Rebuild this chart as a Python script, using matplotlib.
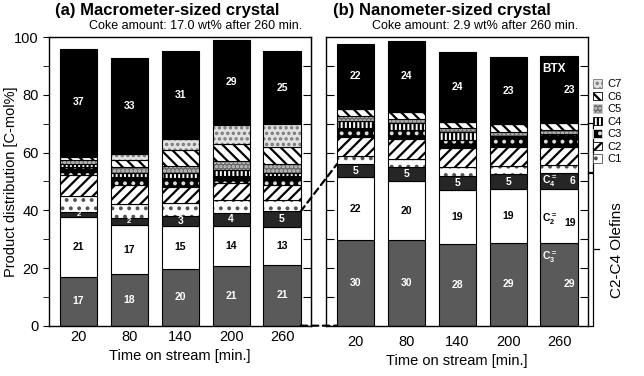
"""
Product distribution over time on stream for macro- and nano-sized crystals.
"""

import matplotlib
matplotlib.use("Agg")
import matplotlib.pyplot as plt
from matplotlib.patches import Patch, ConnectionPatch
import matplotlib.transforms as mtransforms
import numpy as np

plt.rcParams['font.family'] = ['Liberation Sans', 'DejaVu Sans']
plt.rcParams['mathtext.default'] = 'regular'
plt.rcParams['hatch.linewidth'] = 1.6

# data (C-mol%)
times = [20, 80, 140, 200, 260]

# (a) macrometer-sized crystal
a_ole_c3 = [17.0, 17.8, 19.6, 20.7, 21.0]
a_ole_c2 = [20.6, 17.1, 15.1, 14.0, 13.3]
a_ole_c4 = [1.8, 2.3, 3.4, 4.4, 5.3]
a_c1 = [5.4, 4.9, 4.3, 4.4, 4.0]
a_c2 = [7.6, 6.7, 5.6, 6.0, 5.2]
a_c3 = [2.6, 2.8, 3.2, 2.5, 3.1]
a_c4 = [1.0, 1.3, 1.8, 1.8, 1.2]
a_c5 = [1.4, 2.2, 2.3, 3.4, 3.0]
a_c6 = [1.0, 2.3, 5.5, 5.8, 5.7]
a_c7 = [0.5, 2.1, 3.8, 6.6, 8.0]
a_btx = [37.0, 33.4, 30.7, 29.4, 25.4]

# (b) nanometer-sized crystal
b_ole_c3 = [29.7, 29.6, 28.2, 28.6, 28.6]
b_ole_c2 = [21.7, 20.4, 18.8, 18.7, 18.7]
b_ole_c4 = [4.6, 5.0, 4.9, 5.2, 5.7]
b_c1 = [2.7, 2.8, 3.1, 2.8, 2.6]
b_c2 = [6.7, 7.0, 6.5, 6.7, 6.4]
b_c3 = [3.1, 3.0, 2.9, 3.7, 4.3]
b_c4 = [2.3, 2.3, 2.6, 0.0, 0.0]
b_c5 = [1.9, 1.7, 1.4, 1.5, 1.4]
b_c6 = [2.5, 2.4, 2.1, 2.6, 2.4]
b_c7 = [0.0, 0.0, 0.0, 0.0, 0.0]
b_btx = [22.4, 24.4, 24.4, 23.4, 23.4]

paraffin_names = ["C1", "C2", "C3", "C4", "C5", "C6", "C7"]

# styles: (face, hatch, hatch colour)
ole_c3_style = ("#5a5a5a", None, "#5a5a5a")
ole_c2_style = ("white", None, "white")
ole_c4_style = ("#262626", None, "#262626")
par_styles = [
    ("white", "..", "#555555"),     # C1
    ("white", "///", "black"),      # C2
    ("black", "..", "#dddddd"),     # C3
    ("white", "||||", "black"),     # C4
    ("#6a6a6a", "....", "#cccccc"), # C5
    ("white", "\\\\\\", "black"),   # C6
    ("#e2e2e2", "...", "#777777"),  # C7
]
btx_style = ("black", None, "black")

W = 0.73


def seg(ax, x, h, bottom, style):
    face, hatch, hcol = style
    ax.bar(x, h, W, bottom, color=face, edgecolor=hcol, hatch=hatch, linewidth=0)
    ax.bar(x, h, W, bottom, fill=False, edgecolor="black", linewidth=0.8)


def plot_panel(ax, ole3, ole2, ole4, pars, btx):
    x = np.arange(len(times))
    bottom = np.zeros(len(times))
    for vals, st in [(ole3, ole_c3_style), (ole2, ole_c2_style), (ole4, ole_c4_style)]:
        seg(ax, x, vals, bottom, st)
        bottom = bottom + np.array(vals)
    ole_top = bottom.copy()
    for vals, st in zip(pars, par_styles):
        seg(ax, x, vals, bottom, st)
        bottom = bottom + np.array(vals)
    par_top = bottom.copy()
    seg(ax, x, btx, bottom, btx_style)
    ax.set_xlim(-0.58, len(times) - 1 + 0.57)
    ax.set_ylim(0, 100)
    ax.set_xticks(x)
    ax.set_xticklabels([str(t) for t in times], fontsize=10.5)
    return x, ole_top, par_top


fig = plt.figure(figsize=(6.44, 3.76), dpi=100)
axL = fig.add_axes([49 / 644, 1 - 325.7 / 376, 262 / 644, 288.5 / 376])
axR = fig.add_axes([326 / 644, 1 - 325.7 / 376, 262 / 644, 288.5 / 376])

xa, a_ole_top, a_par_top = plot_panel(axL, a_ole_c3, a_ole_c2, a_ole_c4,
                                      [a_c1, a_c2, a_c3, a_c4, a_c5, a_c6, a_c7], a_btx)
xb, b_ole_top, b_par_top = plot_panel(axR, b_ole_c3, b_ole_c2, b_ole_c4,
                                      [b_c1, b_c2, b_c3, b_c4, b_c5, b_c6, b_c7], b_btx)

# value labels
lab = dict(ha="center", va="center", fontweight="bold", fontsize=7.5)
for i in range(len(times)):
    # panel (a)
    axL.text(i, a_ole_c3[i] / 2, f"{a_ole_c3[i]:.0f}", color="white", **lab)
    axL.text(i, a_ole_c3[i] + a_ole_c2[i] / 2, f"{a_ole_c2[i]:.0f}", color="black", **lab)
    fs = 7.5 if a_ole_c4[i] > 3 else 5.5
    axL.text(i, a_ole_top[i] - a_ole_c4[i] / 2, f"{a_ole_c4[i]:.0f}", color="white",
             ha="center", va="center", fontweight="bold", fontsize=fs)
    axL.text(i, a_par_top[i] + a_btx[i] / 2, f"{a_btx[i]:.0f}", color="white", **lab)
    if i == len(times) - 1:
        continue
    # panel (b)
    axR.text(i, b_ole_c3[i] / 2, f"{b_ole_c3[i]:.0f}", color="white", **lab)
    axR.text(i, b_ole_c3[i] + b_ole_c2[i] / 2, f"{b_ole_c2[i]:.0f}", color="black", **lab)
    axR.text(i, b_ole_top[i] - b_ole_c4[i] / 2, f"{b_ole_c4[i]:.0f}", color="white", **lab)
    axR.text(i, b_par_top[i] + b_btx[i] / 2, f"{b_btx[i]:.0f}", color="white", **lab)

# last bar of panel (b) carries the species names
k = len(times) - 1
xl, xr = k - W / 2 + 0.04, k + W / 2 - 0.04
bl = dict(fontweight="bold", fontsize=7.5, va="center")
axR.text(xl, b_ole_c3[k] * 0.83, r"C$_3^=$", color="white", ha="left", **bl)
axR.text(xr, b_ole_c3[k] * 0.5, f"{b_ole_c3[k]:.0f}", color="white", ha="right", **bl)
axR.text(xl, b_ole_c3[k] + b_ole_c2[k] * 0.45, r"C$_2^=$", color="black", ha="left", **bl)
axR.text(xr, b_ole_c3[k] + b_ole_c2[k] * 0.37, f"{b_ole_c2[k]:.0f}", color="black", ha="right", **bl)
axR.text(xl, b_ole_top[k] - b_ole_c4[k] / 2, r"C$_4^=$", color="white", ha="left", **bl)
axR.text(xr, b_ole_top[k] - b_ole_c4[k] / 2, f"{b_ole_c4[k]:.0f}", color="white", ha="right", **bl)
axR.text(xl, b_par_top[k] + b_btx[k] * 0.8, "BTX", color="white", ha="left",
         fontweight="bold", fontsize=8.5, va="center")
axR.text(xr, b_par_top[k] + b_btx[k] * 0.5, f"{b_btx[k]:.0f}", color="white", ha="right", **bl)

# axes decoration
for ax in (axL, axR):
    for sp in ax.spines.values():
        sp.set_linewidth(1.0)
axL.set_yticks(np.arange(0, 101, 20))
axL.set_yticks(np.arange(10, 100, 20), minor=True)
axL.tick_params(axis="y", which="both", direction="out", length=4, labelsize=10.5)
axL.tick_params(axis="x", length=0, pad=3)
secL = axL.secondary_yaxis("right")
secL.set_yticks(np.arange(10, 100, 10))
secL.tick_params(direction="in", length=6, labelright=False)
axL.set_ylabel("Product distribution [C-mol%]", fontsize=10.5)
axL.yaxis.set_label_coords(-0.118, 0.5)
axL.set_xlabel("Time on stream [min.]", fontsize=10.5, labelpad=4)

axR.set_yticks(np.arange(10, 100, 10))
axR.tick_params(axis="y", direction="in", length=6, left=True, right=True,
                labelleft=False)
axR.tick_params(axis="x", length=0, pad=7)
axR.set_xlabel("Time on stream [min.]", fontsize=10.5, labelpad=3)

# titles
fig.text(0.26, 0.971, "(a) Macrometer-sized crystal", ha="center", va="center",
         fontsize=12, fontweight="bold")
fig.text(0.303, 0.931, "Coke amount: 17.0 wt% after 260 min.", ha="center",
         va="center", fontsize=9)
fig.text(0.686, 0.971, "(b) Nanometer-sized crystal", ha="center", va="center",
         fontsize=12, fontweight="bold")
fig.text(0.738, 0.931, "Coke amount: 2.9 wt% after 260 min.", ha="center",
         va="center", fontsize=9)

# dashed zoom lines from panel (a) last bar to panel (b) first bar
for ya, yb in [(a_ole_top[-1], b_ole_top[0]), (0, 0)]:
    con = ConnectionPatch(xyA=(len(times) - 1 + W / 2, ya), coordsA=axL.transData,
                          xyB=(-W / 2, yb), coordsB=axR.transData,
                          linestyle=(0, (3, 2)), linewidth=1.6, color="black")
    fig.add_artist(con)

# brackets on the right of panel (b)
tr = mtransforms.blended_transform_factory(axR.transAxes, axR.transData)
bx, tx = 1.019, 1.042
for lo, hi in [(b_ole_top[-1] + 0.4, b_par_top[-1]), (0, b_ole_top[-1])]:
    axR.plot([1.0, bx, bx, 1.0], [hi, hi, lo, lo], color="black", lw=0.9,
             transform=tr, clip_on=False)
    axR.plot([bx, tx], [(lo + hi) / 2] * 2, color="black", lw=0.9,
             transform=tr, clip_on=False)
fig.text(0.958, 0.335, "C2-C4 Olefins", rotation=90, ha="center", va="center",
         fontsize=11)

# legend for paraffins
handles = [Patch(facecolor=f, edgecolor=c, hatch=h, linewidth=0.6)
           for f, h, c in par_styles]
fig.legend(handles[::-1], paraffin_names[::-1], loc="upper left",
           bbox_to_anchor=(593 / 644, 1 - 79 / 376), frameon=False, fontsize=8,
           handlelength=0.8, handleheight=0.8, labelspacing=0.22,
           handletextpad=0.5, borderpad=0, borderaxespad=0)

fig.savefig("out.png", dpi=100)
